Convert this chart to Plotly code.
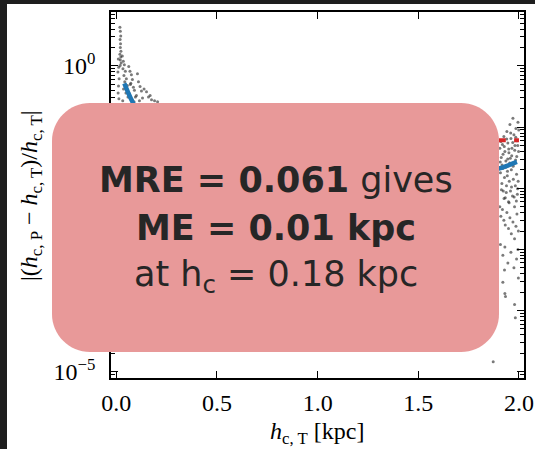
import plotly.graph_objects as go

# ---------------- data ----------------
left_x = [0.018, 0.020, 0.022, 0.019, 0.021, 0.020, 0.023, 0.018, 0.022, 0.020, 0.024, 0.019,
          0.010, 0.012, 0.008, 0.014, 0.011, 0.009, 0.013,
          0.030, 0.035, 0.040, 0.033, 0.045, 0.038, 0.050, 0.042, 0.055, 0.036, 0.048, 0.058, 0.032,
          0.062, 0.068, 0.075, 0.080, 0.072, 0.085, 0.090, 0.065, 0.095, 0.078, 0.088, 0.070,
          0.105, 0.110, 0.118, 0.125, 0.100, 0.130, 0.115, 0.138,
          0.150, 0.160, 0.175, 0.190, 0.205, 0.168]
left_y = [4.3, 3.7, 3.1, 2.7, 2.3, 2.0, 1.75, 1.55, 1.4, 1.25, 1.12, 1.02,
          1.3, 0.95, 0.8, 0.62, 0.47, 0.36, 0.29,
          1.45, 1.2, 1.05, 0.9, 0.82, 0.7, 0.62, 0.55, 0.48, 0.42, 0.36, 0.31, 0.27,
          0.98, 0.82, 0.72, 0.6, 0.52, 0.45, 0.4, 0.35, 0.31, 0.28, 0.26, 0.5,
          0.75, 0.55, 0.46, 0.39, 0.33, 0.30, 0.27, 0.42,
          0.38, 0.31, 0.28, 0.27, 0.26, 0.33]

right_x = [1.905, 1.912, 1.918, 1.925, 1.930, 1.935, 1.940, 1.945, 1.950, 1.955, 1.960, 1.965,
           1.970, 1.975, 1.980, 1.985, 1.990, 1.995, 1.998,
           1.908, 1.915, 1.922, 1.928, 1.932, 1.938, 1.942, 1.948, 1.952, 1.958, 1.962, 1.968,
           1.972, 1.978, 1.982, 1.988, 1.992, 1.996,
           1.905, 1.910, 1.918, 1.925, 1.932, 1.940, 1.948, 1.955, 1.962, 1.970, 1.978, 1.985,
           1.990, 1.997,
           1.908, 1.920, 1.930, 1.945, 1.960, 1.975, 1.988, 1.995,
           1.928, 1.997, 1.920, 1.930, 1.933, 1.978, 1.982, 1.872,
           1.910, 1.916, 1.921, 1.927, 1.934, 1.939, 1.944, 1.949, 1.954, 1.959, 1.964, 1.969,
           1.974, 1.979, 1.984, 1.989, 1.994, 1.999, 1.913, 1.926, 1.937, 1.951, 1.963, 1.976,
           1.987, 1.993, 1.907, 1.919, 1.943, 1.957, 1.971, 1.983]
right_y = [0.045, 0.032, 0.052, 0.070, 0.040, 0.028, 0.085, 0.055, 0.038, 0.110, 0.065, 0.045,
           0.140, 0.075, 0.050, 0.095, 0.060, 0.120, 0.040,
           0.018, 0.012, 0.009, 0.015, 0.007, 0.011, 0.016, 0.006, 0.013, 0.009, 0.020, 0.0075,
           0.014, 0.005, 0.011, 0.017, 0.008, 0.013,
           0.005, 0.0035, 0.0045, 0.003, 0.0025, 0.004, 0.0022, 0.0033, 0.0018, 0.0028, 0.0015, 0.0024,
           0.0038, 0.002,
           0.0012, 0.0008, 0.0011, 0.0006, 0.0009, 0.0005, 0.0007, 0.0010,
           0.00046, 0.00034, 0.00029, 0.00019, 0.00017, 0.000126, 0.000076, 0.0000145,
           0.058, 0.024, 0.036, 0.048, 0.022, 0.064, 0.030, 0.044, 0.026, 0.080, 0.034, 0.056,
           0.025, 0.042, 0.068, 0.033, 0.050, 0.090, 0.0095, 0.0068, 0.0085, 0.0058, 0.0105, 0.0072,
           0.0062, 0.0098, 0.027, 0.021, 0.019, 0.031, 0.023, 0.029]

fit_x = [0.04, 0.06, 0.08, 0.12, 0.2, 0.3, 0.5, 0.8, 1.1, 1.4, 1.7, 1.9, 1.95, 1.99]
fit_y = [0.52, 0.36, 0.26, 0.15, 0.08, 0.05, 0.03, 0.022, 0.019, 0.018, 0.019, 0.021, 0.024, 0.027]

mre_x = [0.0, 2.0]
mre_value = 0.061

x_ticks = [0.0, 0.5, 1.0, 1.5, 2.0]
x_ticktext = ["0.0", "0.5", "1.0", "1.5", "2.0"]
y_ticks = [1e0, 1e-1, 1e-2, 1e-3, 1e-4, 1e-5]
y_ticktext = ["10<sup>0</sup>", "", "", "", "", "10<sup>−5</sup>"]

x_title = "<i>h</i><sub>c, T</sub> [kpc]"
y_title = "|(<i>h</i><sub>c, P</sub> − <i>h</i><sub>c, T</sub>)/<i>h</i><sub>c, T</sub>|"
box_lines = ["<b>MRE = 0.061</b> gives", "<b>ME = 0.01 kpc</b>", "at h<sub>c</sub> = 0.18 kpc"]

# ---------------- layout constants ----------------
W, H = 535, 449
ML, MR, MT, MB = 111, 11, 12, 71
PW, PH = W - ML - MR, H - MT - MB


def paper(px, py):
    return (px - ML) / PW, (H - MB - py) / PH


def rounded_path(L, T, R, B, r):
    k = 0.5523 * r

    def P(px, py):
        x, y = paper(px, py)
        return f"{x:.5f},{y:.5f}"
    d = f"M {P(L + r, T)} L {P(R - r, T)} "
    d += f"C {P(R - r + k, T)} {P(R, T + r - k)} {P(R, T + r)} "
    d += f"L {P(R, B - r)} "
    d += f"C {P(R, B - r + k)} {P(R - r + k, B)} {P(R - r, B)} "
    d += f"L {P(L + r, B)} "
    d += f"C {P(L + r - k, B)} {P(L, B - r + k)} {P(L, B - r)} "
    d += f"L {P(L, T + r)} "
    d += f"C {P(L, T + r - k)} {P(L + r - k, T)} {P(L + r, T)} Z"
    return d


minor_vals = [m * 10.0 ** e for e in range(-6, 1) for m in range(2, 10)]

fig = go.Figure()
fig.add_trace(go.Scatter(x=left_x + right_x, y=left_y + right_y, mode="markers",
                         marker=dict(size=3, color="rgba(50,50,50,0.65)"),
                         showlegend=False, hoverinfo="skip"))
fig.add_trace(go.Scatter(x=mre_x, y=[mre_value] * len(mre_x), mode="lines",
                         line=dict(color="#d62728", width=4, dash="7px,8.3px"),
                         showlegend=False))
fig.add_trace(go.Scatter(x=fit_x, y=fit_y, mode="lines",
                         line=dict(color="#1f77b4", width=4.5, shape="spline"),
                         showlegend=False))

serif = "Liberation Serif"
fig.update_layout(
    width=W, height=H,
    margin=dict(l=ML, r=MR, t=MT, b=MB),
    paper_bgcolor="white", plot_bgcolor="white",
    font=dict(family=serif, size=24, color="black"),
    xaxis=dict(range=[-0.0263, 2.025], tickmode="array", tickvals=x_ticks, ticktext=x_ticktext,
               ticks="inside", ticklen=7, tickwidth=1.2, tickcolor="black",
               showline=True, linecolor="black", linewidth=1.5, mirror="ticks",
               showgrid=False, zeroline=False, automargin=False,
               tickfont=dict(family=serif, size=24), ticklabelstandoff=2),
    yaxis=dict(type="log", range=[-5.103, 0.883], tickmode="array", tickvals=y_ticks,
               ticktext=y_ticktext,
               ticks="inside", ticklen=7, tickwidth=1.2, tickcolor="black",
               minor=dict(tickmode="array", tickvals=minor_vals, ticks="inside", ticklen=4,
                          tickwidth=1, tickcolor="black", showgrid=False),
               showline=True, linecolor="black", linewidth=1.5, mirror="ticks",
               showgrid=False, zeroline=False, automargin=False,
               tickfont=dict(family=serif, size=24), ticklabelstandoff=9),
)

# axis titles
tx, ty = paper(317, 433)
fig.add_annotation(text=x_title, xref="paper", yref="paper", x=tx, y=ty, showarrow=False,
                   xanchor="center", yanchor="middle", font=dict(family=serif, size=24))
tx, ty = paper(31, 196)
fig.add_annotation(text=y_title, xref="paper", yref="paper", x=tx, y=ty, showarrow=False,
                   textangle=-90, xanchor="center", yanchor="middle",
                   font=dict(family=serif, size=24))

dark = "#1e1e1e"
x0, y0 = paper(-2, -2)
x1, y1 = paper(W + 2, 4)
fig.add_shape(type="rect", xref="paper", yref="paper", x0=x0, y0=y0, x1=x1, y1=y1,
              fillcolor=dark, line_width=0, layer="above")
x0, y0 = paper(-2, -2)
x1, y1 = paper(7, H + 2)
fig.add_shape(type="rect", xref="paper", yref="paper", x0=x0, y0=y0, x1=x1, y1=y1,
              fillcolor=dark, line_width=0, layer="above")

fig.add_shape(type="path", xref="paper", yref="paper",
              path=rounded_path(52, 103, 499, 352, 38),
              fillcolor="#e89999", line_width=0, layer="above")

txt_font = dict(family="DejaVu Sans", size=35, color="#262626")
cx = paper(275.5, 0)[0]
ys = [180, 228, 276]
for t, py in zip(box_lines, ys):
    fig.add_annotation(text=t, xref="paper", yref="paper", x=cx, y=paper(0, py)[1],
                       showarrow=False, xanchor="center", yanchor="middle", font=txt_font)

fig.write_html("out.html")
